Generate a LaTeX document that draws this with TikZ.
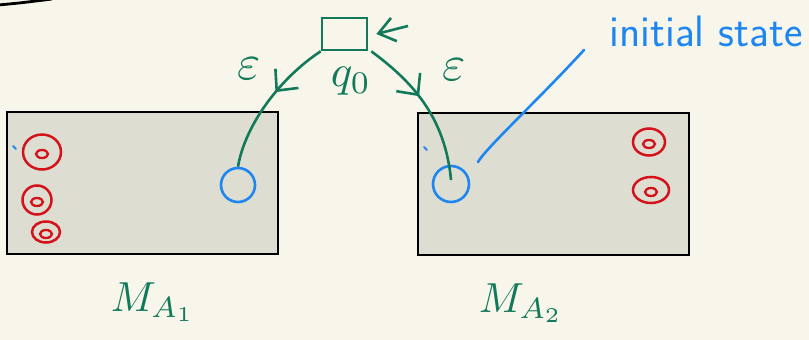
\documentclass[tikz,border=0pt]{standalone}
\usepackage{tikz}
\usetikzlibrary{positioning, arrows.meta, decorations.markings, shapes.geometric}

\definecolor{paper}{HTML}{F8F6EA}
\definecolor{boxgray}{HTML}{DEDDD2}
\definecolor{inkgreen}{HTML}{127A5B}
\definecolor{inkblue}{HTML}{1E86F0}
\definecolor{inkred}{HTML}{D3121A}

\begin{document}
\begin{tikzpicture}[
    x=1pt, y=-1pt,
    nfa/.style={draw=black, line width=2.8pt, fill=boxgray, minimum width=271pt, minimum height=142pt, inner sep=0pt},
    startbox/.style={draw=inkgreen, line width=2.6pt, minimum width=45pt, minimum height=32pt, inner sep=0pt},
    initstate/.style={circle, draw=inkblue, line width=2.6pt, minimum size=34pt, inner sep=0pt},
    accept/.style={ellipse, draw=inkred, line width=2.5pt, inner sep=0pt,
        path picture={\draw[inkred, line width=2.3pt] ([yshift=-2pt]path picture bounding box.center) ellipse (6pt and 4pt);}},
    ink/.style={inner sep=0pt, text=inkgreen},
    epsarrow/.style={draw=inkgreen, line width=2.6pt, postaction={decorate},
        decoration={markings, mark=at position 0.42 with {\arrow[inkgreen, line width=2.6pt]{Straight Barb[length=16pt, width=30pt]}}}}
]
    \useasboundingbox (0,0) rectangle (809,340);
    \fill[paper] (0,0) rectangle (809,340);
    \draw[black, line width=2.8pt] (-2,5) .. controls (20,3) .. (52,-1);

    \node[nfa] (ma1) at (142.5,183) {};
    \node[nfa] (ma2) at (553.5,184) {};
    \node[startbox] (q0) at (344.5,34) {};
    \node[ink, scale=4.5] (q0lbl) at (351,81) {$q_0$};
    \node[initstate] (s1) at (238,185) {};
    \node[initstate, minimum size=36pt] (s2) at (451,184) {};
    \node[accept, minimum width=38pt, minimum height=35pt] (f1) at (42,152) {};
    \node[accept, minimum width=29pt, minimum height=29pt] (f2) at (37,200) {};
    \node[accept, minimum width=28pt, minimum height=21pt] (f3) at (46,232) {};
    \node[accept, minimum width=32pt, minimum height=27pt] (f4) at (649,142) {};
    \node[accept, minimum width=36pt, minimum height=26pt] (f5) at (651,190) {};
    \node[ink, scale=4.2] (lbl1) at (153,302) {$M_{A_1}$};
    \node[ink, scale=4.2] (lbl2) at (521,303) {$M_{A_2}$};
    \node[ink, scale=5] (eps1) at (249,69) {$\varepsilon$};
    \node[ink, scale=5] (eps2) at (454,70) {$\varepsilon$};
    \node[font=\sffamily\fontsize{44}{46}\selectfont, text=inkblue, anchor=base east] (init) at (806,46) {initial state};

    \coordinate (inA) at (408,26);
    \draw[inkgreen, line width=2.6pt, -{Straight Barb[length=16pt, width=24pt]}] (inA) -- ([xshift=8pt]q0.east);
    \draw[epsarrow] (q0.south west) .. controls (280,78) and (245,125) .. (s1.north);
    \draw[epsarrow] ([xshift=3pt]q0.south east) .. controls (410,80) and (445,115) .. ([yshift=4pt]s2.center);

    \coordinate (ptrA) at (478,162);
    \coordinate (ptrB) at (584,50);
    \draw[inkblue, line width=2.6pt, line cap=round] (ptrA) .. controls (486,148) and (540,98) .. (ptrB);
    \draw[inkblue, line width=1.8pt, line cap=round] (13,146) -- (16,149);
    \draw[inkblue, line width=1.8pt, line cap=round] (424,147) -- (427,150);
\end{tikzpicture}
\end{document}
